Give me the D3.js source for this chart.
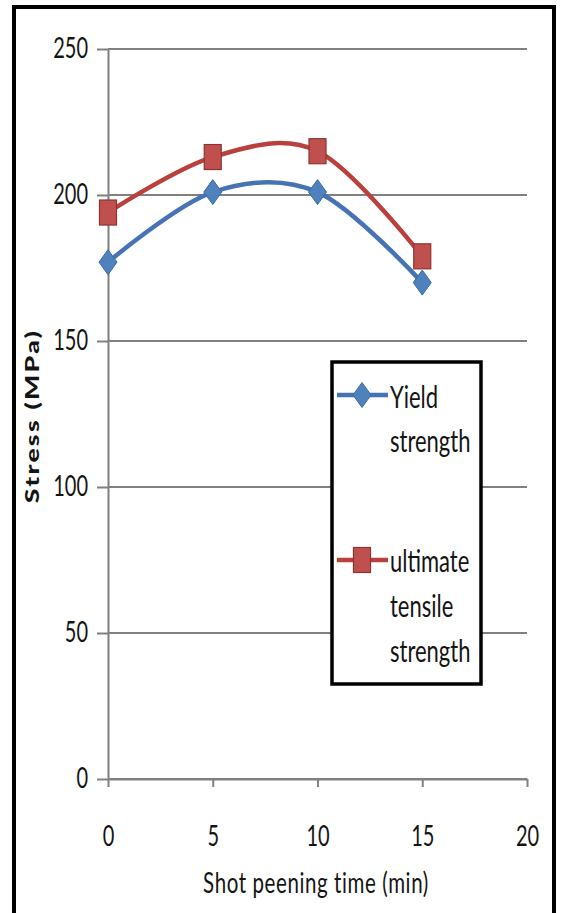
<!DOCTYPE html>
<html>
<head>
<meta charset="utf-8">
<script src="https://cdn.jsdelivr.net/npm/d3@7"></script>
<style>
  html, body { margin: 0; padding: 0; background: #fff; }
  svg { display: block; }
  text { font-family: Lato, "Open Sans", sans-serif; fill: #141414; }
</style>
</head>
<body>
<div id="chart"></div>
<script>
// Shot peening time (min) vs. stress (MPa)
const times = [0, 5, 10, 15];
const yieldStrength = [177, 201, 201, 170];
const ultimateStrength = [194, 213, 215, 179];
const xTicks = [0, 5, 10, 15, 20];
const yTicks = [0, 50, 100, 150, 200, 250];
const seriesNames = [["Yield", "strength"], ["ultimate", "tensile", "strength"]];

const W = 565, H = 913;
const K = 1.4; // vertical stretch applied to lettering

const svg = d3.select("#chart").append("svg")
  .attr("width", W).attr("height", H);

svg.append("rect").attr("width", W).attr("height", H).attr("fill", "#fff");

// Outer frame
svg.append("rect")
  .attr("x", 14).attr("y", 7).attr("width", 540).attr("height", 960)
  .attr("fill", "none").attr("stroke", "#000").attr("stroke-width", 4);

const x = d3.scaleLinear().domain([0, 20]).range([108, 527]);
const y = d3.scaleLinear().domain([0, 250]).range([779, 49]);

const gridColor = "#808080";

// Horizontal gridlines
svg.append("g").selectAll("line").data(yTicks).join("line")
  .attr("x1", x(0)).attr("x2", x(20))
  .attr("y1", d => y(d)).attr("y2", d => y(d))
  .attr("stroke", gridColor).attr("stroke-width", 2);

// Y axis
const yAxis = svg.append("g").attr("transform", `translate(${x(0)},0)`)
  .call(d3.axisLeft(y).tickValues(yTicks).tickSize(11).tickSizeOuter(0).tickPadding(9));
yAxis.select(".domain").attr("stroke", gridColor).attr("stroke-width", 2);
yAxis.selectAll(".tick line").attr("stroke", gridColor).attr("stroke-width", 2);
yAxis.selectAll(".tick text")
  .style("font-size", "20px")
  .attr("transform", `scale(1,${K})`);

// X axis
const xAxis = svg.append("g").attr("transform", `translate(0,${y(0)})`)
  .call(d3.axisBottom(x).tickValues(xTicks).tickSize(8).tickSizeOuter(0));
xAxis.select(".domain").attr("stroke", gridColor).attr("stroke-width", 2);
xAxis.selectAll(".tick line").attr("stroke", gridColor).attr("stroke-width", 2);
xAxis.selectAll(".tick text")
  .attr("y", 0).attr("dy", 0)
  .style("font-size", "20px")
  .attr("transform", `translate(0,67) scale(1,${K})`);

// Axis titles
svg.append("text")
  .attr("transform", `translate(316,893) scale(1,${K})`)
  .attr("text-anchor", "middle")
  .style("font-size", "20.5px")
  .style("letter-spacing", "0.6px")
  .text("Shot peening time (min)");

svg.append("text")
  .attr("transform", `translate(39,416) rotate(-90) scale(${K},1)`)
  .attr("text-anchor", "middle")
  .style("font-size", "19px").style("font-weight", "900")
  .style("letter-spacing", "1.6px")
  .text("Stress (MPa)");

// Series
const series = [
  { values: yieldStrength, line: "#4673B4", fill: "#4F81BD", edge: "#3A6BA5", shape: "diamond" },
  { values: ultimateStrength, line: "#B8403D", fill: "#C0504D", edge: "#8E3331", shape: "square" }
];

const lineGen = d3.line()
  .x(d => x(d[0])).y(d => y(d[1]))
  .curve(d3.curveCardinal.tension(0));

function marker(g, shape, cx, cy, s) {
  if (shape === "diamond") {
    g.append("path")
      .attr("d", `M${cx},${cy - 12.5}L${cx + 9},${cy}L${cx},${cy + 12.5}L${cx - 9},${cy}Z`)
      .attr("fill", s.fill).attr("stroke", s.edge).attr("stroke-width", 1);
  } else {
    g.append("rect")
      .attr("x", cx - 8.5).attr("y", cy - 12.5).attr("width", 17).attr("height", 25)
      .attr("fill", s.fill).attr("stroke", s.edge).attr("stroke-width", 1.2);
  }
}

series.forEach(s => {
  const pts = times.map((t, i) => [t, s.values[i]]);
  svg.append("path").datum(pts)
    .attr("d", lineGen)
    .attr("fill", "none").attr("stroke", s.line)
    .attr("stroke-width", 4.5).attr("stroke-linejoin", "round");
  const g = svg.append("g");
  pts.forEach(p => marker(g, s.shape, x(p[0]), y(p[1]), s));
});

// Legend
const legend = svg.append("g");
legend.append("rect")
  .attr("x", 332).attr("y", 362).attr("width", 149).attr("height", 322)
  .attr("fill", "#fff").attr("stroke", "#000").attr("stroke-width", 3.5);

const legendRows = [
  { lineY: 395, baselines: [408, 452] },
  { lineY: 560, baselines: [572, 617, 662] }
];
legendRows.forEach((r, i) => {
  const s = series[i];
  legend.append("line")
    .attr("x1", 337).attr("x2", 388).attr("y1", r.lineY).attr("y2", r.lineY)
    .attr("stroke", s.line).attr("stroke-width", 4.5);
  marker(legend, s.shape, 362, r.lineY, s);
  seriesNames[i].forEach((word, j) => {
    legend.append("text")
      .attr("transform", `translate(390,${r.baselines[j]}) scale(1,${K})`)
      .style("font-size", "22px")
      .text(word);
  });
});
</script>
</body>
</html>
